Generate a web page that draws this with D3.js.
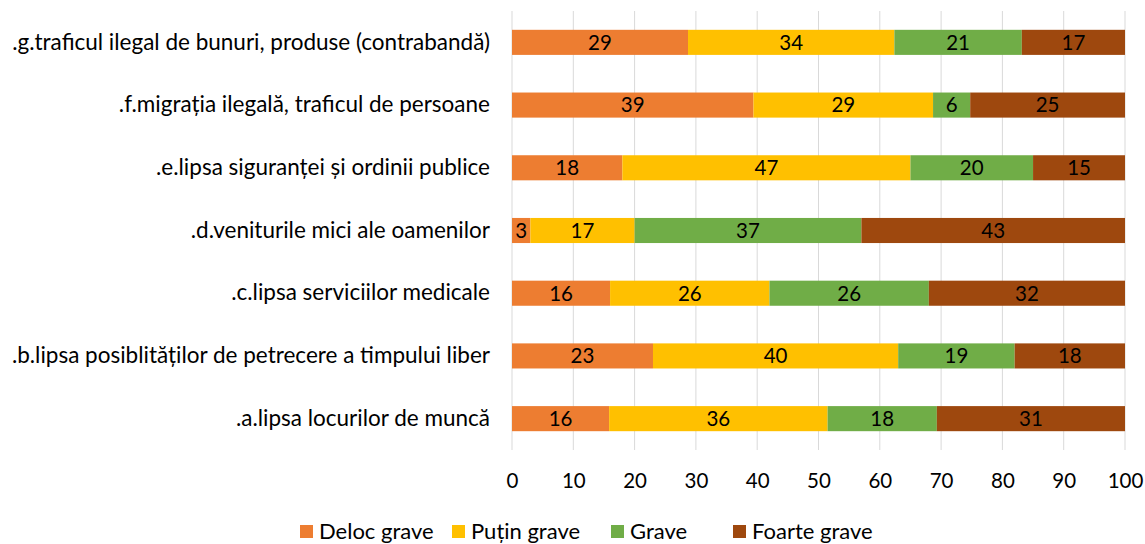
<!DOCTYPE html>
<html lang="ro">
<head>
<meta charset="UTF-8">
<title>Probleme grave</title>
<script src="https://d3js.org/d3.v7.min.js"></script>
<style>
  body { margin: 0; background: #fff; }
  svg { font-family: Lato, "Open Sans", sans-serif; }
</style>
</head>
<body>
<svg id="chart" width="1145" height="544"></svg>
<script>
// categories, top to bottom
const categories = [
  ".g.traficul ilegal de bunuri, produse (contrabandă)",
  ".f.migrația ilegală, traficul de persoane",
  ".e.lipsa siguranței și ordinii publice",
  ".d.veniturile mici ale oamenilor",
  ".c.lipsa serviciilor medicale",
  ".b.lipsa posiblităților de petrecere a timpului liber",
  ".a.lipsa locurilor de muncă"
];
const seriesNames = ["Deloc grave", "Puțin grave", "Grave", "Foarte grave"];
const colors = ["#ED7D31", "#FFC000", "#70AD47", "#9E480E"];

const delocGrave  = [29, 39, 18, 3, 16, 23, 16];
const putinGrave  = [34, 29, 47, 17, 26, 40, 36];
const grave       = [21, 6, 20, 37, 26, 19, 18];
const foarteGrave = [17, 25, 15, 43, 32, 18, 31];
const xTicks = [0, 10, 20, 30, 40, 50, 60, 70, 80, 90, 100];

const allSeries = [delocGrave, putinGrave, grave, foarteGrave];

// 100% stacked: normalise each row by its total
const rows = categories.map((c, i) => {
  const row = { cat: c };
  const total = d3.sum(allSeries, s => s[i]);
  seriesNames.forEach((n, k) => { row[n] = allSeries[k][i] / total * 100; row["_" + n] = allSeries[k][i]; });
  return row;
});

const stacked = d3.stack().keys(seriesNames)(rows);

const svg = d3.select("#chart");
const plotLeft = 512, plotRight = 1125, plotTop = 11, plotBottom = 450;

const x = d3.scaleLinear().domain([0, 100]).range([plotLeft, plotRight]);
const y = d3.scaleBand().domain(categories).range([plotTop, plotBottom]).paddingInner(0.6).paddingOuter(0.3);

// gridlines
svg.append("g")
  .selectAll("line")
  .data(xTicks)
  .join("line")
  .attr("x1", d => x(d)).attr("x2", d => x(d))
  .attr("y1", plotTop).attr("y2", plotBottom)
  .attr("stroke", "#d9d9d9").attr("stroke-width", 1);

// bars
const layers = svg.append("g")
  .selectAll("g")
  .data(stacked)
  .join("g")
  .attr("fill", (d, i) => colors[i]);

layers.selectAll("rect")
  .data(d => d)
  .join("rect")
  .attr("x", d => x(d[0]))
  .attr("width", d => x(d[1]) - x(d[0]))
  .attr("y", d => y(d.data.cat))
  .attr("height", y.bandwidth());

// value labels
stacked.forEach(layer => {
  svg.append("g")
    .selectAll("text")
    .data(layer)
    .join("text")
    .attr("x", d => (x(d[0]) + x(d[1])) / 2)
    .attr("y", d => y(d.data.cat) + y.bandwidth() / 2)
    .attr("dy", "0.36em")
    .attr("text-anchor", "middle")
    .attr("font-size", 20.5)
    .attr("fill", "#000")
    .text(d => d.data["_" + layer.key]);
});

// x axis tick labels
const xAxis = svg.append("g")
  .attr("transform", `translate(0,${plotBottom})`)
  .call(d3.axisBottom(x).tickValues(xTicks).tickSize(0).tickPadding(23));
xAxis.select(".domain").remove();
xAxis.selectAll("text").attr("font-size", 20.5).attr("fill", "#000").attr("font-family", "Lato, sans-serif");

// category labels
const yAxis = svg.append("g")
  .attr("transform", `translate(${plotLeft},0)`)
  .call(d3.axisLeft(y).tickSize(0).tickPadding(22));
yAxis.select(".domain").remove();
yAxis.selectAll("text").attr("font-size", 22.5).attr("fill", "#000").attr("font-family", "Lato, sans-serif");

// legend
const legend = svg.append("g").attr("transform", "translate(0,531)");
const legendX = [300, 452, 611, 733];
seriesNames.forEach((n, i) => {
  const g = legend.append("g").attr("transform", `translate(${legendX[i]},0)`);
  g.append("rect").attr("x", 0).attr("y", -6).attr("width", 13).attr("height", 13).attr("fill", colors[i]);
  g.append("text").attr("x", 19).attr("y", 0).attr("dy", "0.36em")
    .attr("font-size", 22).attr("fill", "#000").text(n);
});
</script>
</body>
</html>
